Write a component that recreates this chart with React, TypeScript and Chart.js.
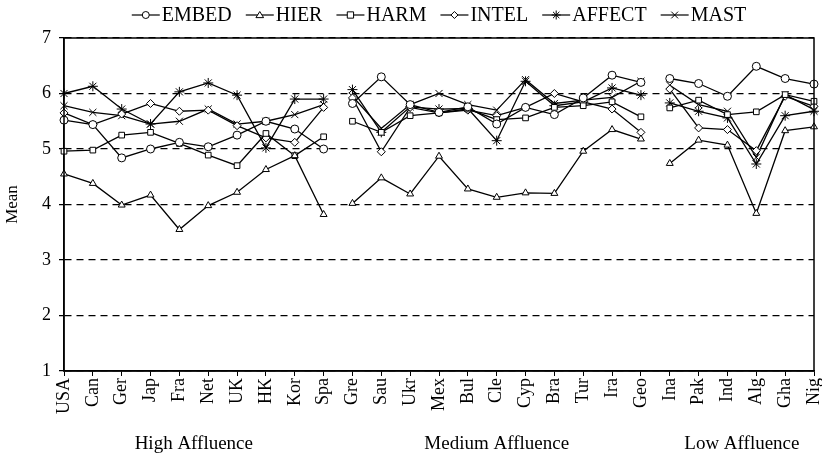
import React, { useEffect, useRef } from 'react';
import { Chart, registerables } from 'chart.js';

Chart.register(...registerables);

// ---------- data ----------
const categories = [
  'USA', 'Can', 'Ger', 'Jap', 'Fra', 'Net', 'UK', 'HK', 'Kor', 'Spa',
  'Gre', 'Sau', 'Ukr', 'Mex', 'Bul', 'Cle', 'Cyp', 'Bra', 'Tur', 'Ira', 'Geo',
  'Ina', 'Pak', 'Ind', 'Alg', 'Gha', 'Nig',
];
const groupSizes = [10, 11, 6];
const groupLabels = ['High Affluence', 'Medium Affluence', 'Low Affluence'];
const yTickValues = [1, 2, 3, 4, 5, 6, 7];

const embed = [5.52, 5.44, 4.84, 5.0, 5.12, 5.04, 5.25, 5.5, 5.36, 5.0,
  5.82, 6.3, 5.8, 5.66, 5.76, 5.45, 5.75, 5.62, 5.92, 6.33, 6.2,
  6.27, 6.18, 5.95, 6.49, 6.27, 6.17];
const hier = [4.55, 4.38, 3.99, 4.17, 3.55, 3.98, 4.22, 4.63, 4.88, 3.82,
  4.02, 4.48, 4.19, 4.87, 4.28, 4.13, 4.21, 4.2, 4.96, 5.35, 5.18,
  4.74, 5.16, 5.07, 3.84, 5.33, 5.4];
const harm = [4.96, 4.98, 5.25, 5.3, 5.1, 4.89, 4.7, 5.28, 4.88, 5.22,
  5.5, 5.3, 5.6, 5.65, 5.72, 5.53, 5.56, 5.75, 5.78, 5.85, 5.58,
  5.74, 5.88, 5.62, 5.67, 5.98, 5.86];
const intel = [5.65, 5.44, 5.63, 5.82, 5.68, 5.7, 5.42, 5.2, 5.12, 5.75,
  5.92, 4.95, 5.75, 5.65, 5.7, 5.6, 5.75, 6.0, 5.85, 5.72, 5.3,
  6.08, 5.38, 5.35, 4.97, 5.95, 5.77];
const affect = [6.0, 6.13, 5.72, 5.45, 6.03, 6.19, 5.97, 5.02, 5.9, 5.9,
  6.07, 5.3, 5.76, 5.72, 5.73, 5.15, 6.22, 5.78, 5.85, 6.1, 5.97,
  5.83, 5.68, 5.56, 4.73, 5.6, 5.68];
const mast = [5.78, 5.66, 5.6, 5.45, 5.5, 5.72, 5.45, 5.5, 5.62, 5.8,
  5.95, 5.37, 5.8, 6.0, 5.8, 5.7, 6.25, 5.82, 5.88, 5.93, 6.22,
  6.15, 5.8, 5.68, 4.85, 5.98, 5.71];

const seriesNames = ['EMBED', 'HIER', 'HARM', 'INTEL', 'AFFECT', 'MAST'];
const seriesValues = [embed, hier, harm, intel, affect, mast];
const seriesMarkers = ['circle', 'triangle', 'rect', 'rectRot', 'star', 'crossRot'];

// ---------- styling ----------
const FONT = '"Liberation Serif", "Times New Roman", serif';
const INK = '#000';

const breakAfter: number[] = [];
{
  let acc = 0;
  for (let i = 0; i < groupSizes.length - 1; i++) {
    acc += groupSizes[i];
    breakAfter.push(acc - 1);
  }
}

function markerRadius(style: string) {
  return style === 'star' || style === 'crossRot' ? 5 : 4;
}

function drawMarker(ctx: CanvasRenderingContext2D, style: string, x: number, y: number, r: number) {
  ctx.save();
  ctx.beginPath();
  ctx.strokeStyle = INK;
  ctx.fillStyle = '#fff';
  ctx.lineWidth = 1;
  if (style === 'circle') {
    ctx.arc(x, y, r, 0, Math.PI * 2);
    ctx.fill();
    ctx.stroke();
  } else if (style === 'triangle') {
    const h = r * 1.5;
    ctx.moveTo(x, y - h * 0.66);
    ctx.lineTo(x + r * 1.1, y + h * 0.5);
    ctx.lineTo(x - r * 1.1, y + h * 0.5);
    ctx.closePath();
    ctx.fill();
    ctx.stroke();
  } else if (style === 'rect') {
    const s = r * 0.9;
    ctx.rect(x - s, y - s, s * 2, s * 2);
    ctx.fill();
    ctx.stroke();
  } else if (style === 'rectRot') {
    ctx.moveTo(x, y - r);
    ctx.lineTo(x + r, y);
    ctx.lineTo(x, y + r);
    ctx.lineTo(x - r, y);
    ctx.closePath();
    ctx.fill();
    ctx.stroke();
  } else if (style === 'star') {
    for (let k = 0; k < 4; k++) {
      const a = (k * Math.PI) / 4;
      ctx.moveTo(x + Math.cos(a) * r, y + Math.sin(a) * r);
      ctx.lineTo(x - Math.cos(a) * r, y - Math.sin(a) * r);
    }
    ctx.stroke();
  } else if (style === 'crossRot') {
    const d = r * 0.75;
    ctx.moveTo(x - d, y - d);
    ctx.lineTo(x + d, y + d);
    ctx.moveTo(x + d, y - d);
    ctx.lineTo(x - d, y + d);
    ctx.stroke();
  }
  ctx.restore();
}

const decorPlugin = {
  id: 'decor',
  afterDraw(chart: any) {
    const { ctx, chartArea } = chart;
    const xs = chart.scales.x;
    ctx.save();
    // frame
    ctx.strokeStyle = INK;
    ctx.lineWidth = 1.5;
    ctx.setLineDash([]);
    ctx.strokeRect(chartArea.left, chartArea.top, chartArea.right - chartArea.left, chartArea.bottom - chartArea.top);

    // group labels
    ctx.fillStyle = INK;
    ctx.font = `19px ${FONT}`;
    ctx.textAlign = 'center';
    ctx.textBaseline = 'middle';
    let start = 0;
    groupSizes.forEach((n, gi) => {
      const x0 = xs.getPixelForValue(start);
      const x1 = xs.getPixelForValue(start + n - 1);
      ctx.fillText(groupLabels[gi], (x0 + x1) / 2, 444);
      start += n;
    });

    // legend
    ctx.font = `20px ${FONT}`;
    ctx.textAlign = 'left';
    const lineLen = 28;
    const gapText = 2;
    const gapItem = 14;
    const widths = seriesNames.map((s) => lineLen + gapText + ctx.measureText(s).width);
    const total = widths.reduce((a, b) => a + b, 0) + gapItem * (seriesNames.length - 1);
    let lx = (chartArea.left + chartArea.right) / 2 - total / 2;
    const ly = 15;
    seriesNames.forEach((name, i) => {
      ctx.beginPath();
      ctx.strokeStyle = INK;
      ctx.lineWidth = 1.2;
      ctx.moveTo(lx, ly);
      ctx.lineTo(lx + lineLen, ly);
      ctx.stroke();
      drawMarker(ctx, seriesMarkers[i], lx + lineLen / 2, ly, markerRadius(seriesMarkers[i]) - 0.5);
      ctx.fillStyle = INK;
      ctx.fillText(name, lx + lineLen + gapText, ly + 1);
      lx += widths[i] + gapItem;
    });
    ctx.restore();
  },
};

export default function App() {
  const canvasRef = useRef<HTMLCanvasElement | null>(null);

  useEffect(() => {
    document.body.style.margin = '0';
    const canvas = canvasRef.current;
    if (!canvas) return;

    const datasets = seriesNames.map((name, i) => ({
      label: name,
      data: seriesValues[i],
      borderColor: INK,
      borderWidth: 1.3,
      pointStyle: seriesMarkers[i],
      pointRadius: markerRadius(seriesMarkers[i]),
      pointBackgroundColor: '#fff',
      pointBorderColor: INK,
      pointBorderWidth: 1,
      tension: 0,
      fill: false,
      clip: false as any,
      segment: {
        borderColor: (c: any) => (breakAfter.includes(c.p0DataIndex) ? 'rgba(0,0,0,0)' : INK),
      },
    }));

    const chart = new Chart(canvas, {
      type: 'line',
      data: { labels: categories, datasets },
      options: {
        animation: false,
        responsive: false,
        devicePixelRatio: 1,
        layout: { padding: { top: 38, right: 8, left: 0, bottom: 0 } },
        plugins: {
          legend: { display: false },
          tooltip: { enabled: false },
        },
        scales: {
          x: {
            type: 'category',
            offset: false,
            grid: {
              display: true,
              drawOnChartArea: false,
              drawTicks: true,
              tickLength: 5,
              color: INK,
              tickColor: INK,
            },
            border: { display: true, color: INK, width: 1.5 },
            ticks: {
              autoSkip: false,
              maxRotation: 90,
              minRotation: 90,
              color: INK,
              font: { family: FONT, size: 18 },
              padding: 2,
            },
            afterFit: (s: any) => {
              s.height = 87;
              s.paddingLeft = 0;
              s.paddingRight = 0;
            },
          },
          y: {
            min: yTickValues[0],
            max: yTickValues[yTickValues.length - 1],
            afterBuildTicks: (s: any) => {
              s.ticks = yTickValues.map((v) => ({ value: v }));
            },
            ticks: {
              color: INK,
              font: { family: FONT, size: 18 },
              padding: 8,
            },
            grid: {
              color: INK,
              lineWidth: 1.3,
              drawTicks: true,
              tickLength: 5,
              tickColor: INK,
              tickBorderDash: [1, 0],
            } as any,
            border: { display: true, color: INK, width: 1.5, dash: [7, 5] },
            title: {
              display: true,
              text: 'Mean',
              color: INK,
              font: { family: FONT, size: 17 },
              padding: 2,
            },
            afterFit: (s: any) => {
              s.width = 64;
              s.paddingTop = 0;
              s.paddingBottom = 0;
            },
          },
        },
      } as any,
      plugins: [decorPlugin],
    });

    return () => chart.destroy();
  }, []);

  return (
    <div style={{ width: 822, height: 458 }}>
      <canvas ref={canvasRef} width={822} height={458} style={{ display: 'block' }} />
    </div>
  );
}
